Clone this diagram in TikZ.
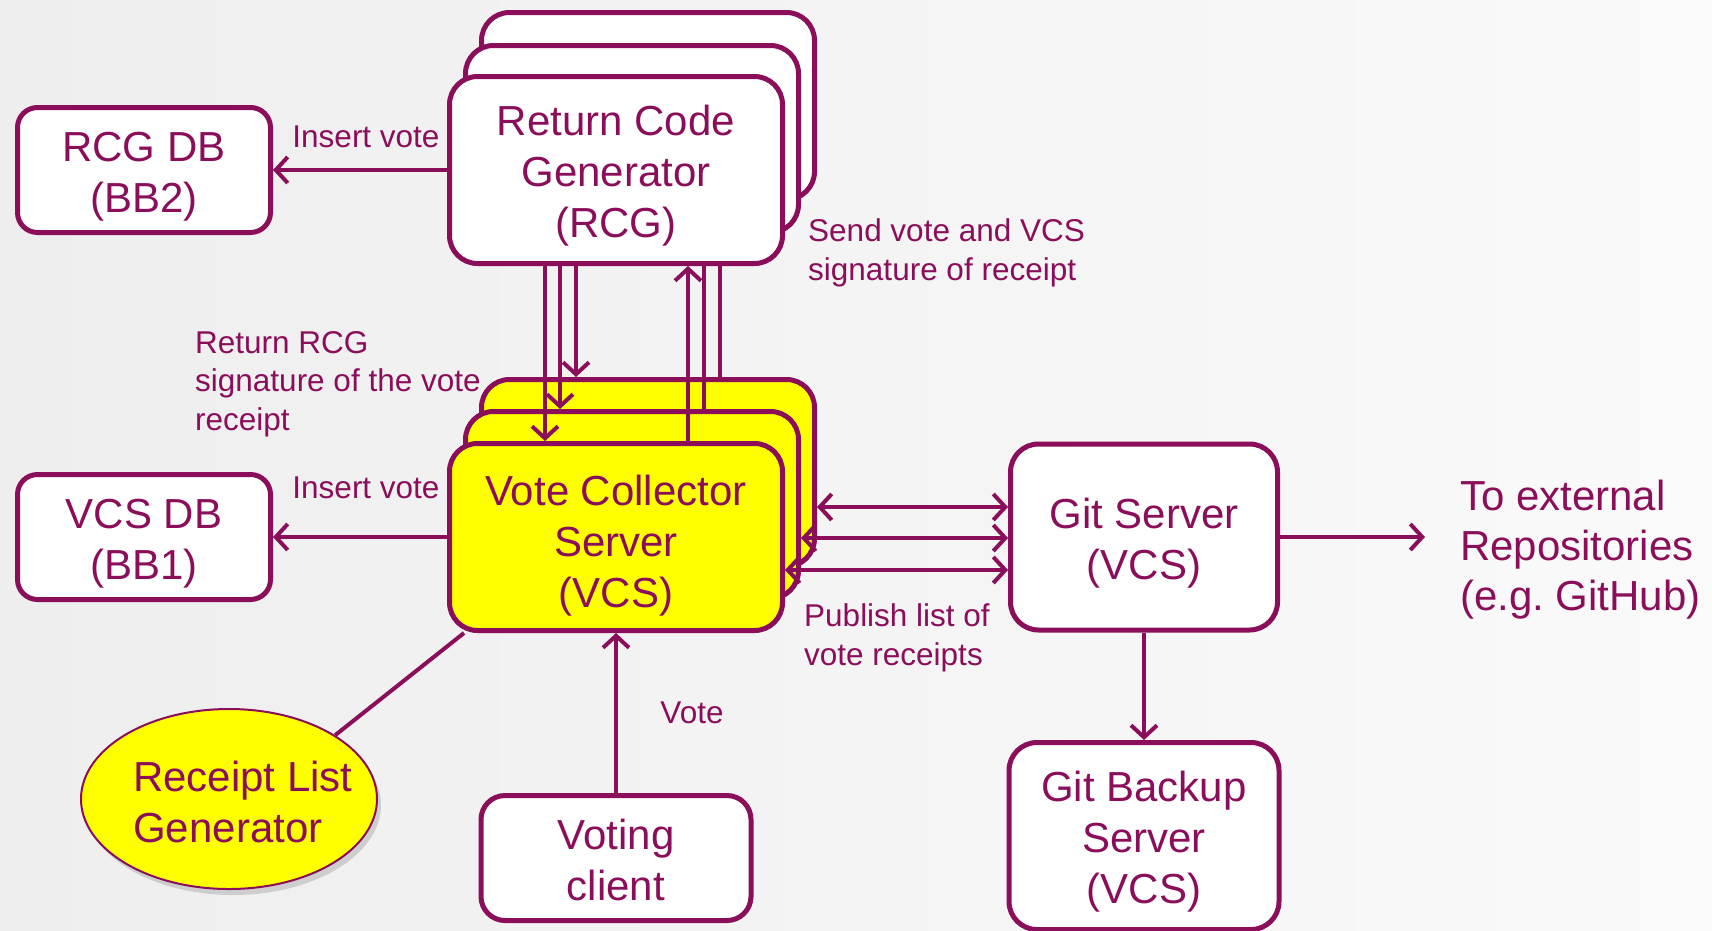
\documentclass[tikz,border=0pt]{standalone}
\usepackage{fontspec}
\setmainfont{Liberation Sans}
\usetikzlibrary{arrows.meta,shapes.geometric,shadows,calc}
\definecolor{pur}{RGB}{139,14,90}
\definecolor{yel}{RGB}{255,255,0}
\definecolor{bgl}{RGB}{238,238,238}
\definecolor{bgr}{RGB}{250,250,250}
\newcommand{\tp}[1]{\rule{0pt}{#1pt}}
\begin{document}
\begin{tikzpicture}[x=1pt,y=-1pt,
  box/.style={draw=pur, line width=5pt, rounded corners=28pt, fill=white, text=pur, align=center, inner sep=0pt, font=\fontsize{42}{51}\selectfont},
  bigbox/.style={box, minimum width=333pt, minimum height=187pt},
  vbox/.style={bigbox, fill=yel},
  smallbox/.style={box, rounded corners=20pt, minimum width=253pt, minimum height=125pt},
  lbl/.style={text=pur, font=\fontsize{31.5}{38.5}\selectfont, inner sep=0pt, align=left},
  conn/.style={draw=pur, line width=4pt},
  arr/.style={conn, -{Straight Barb[length=12pt,width=26pt]}},
  darr/.style={conn, {Straight Barb[length=12pt,width=26pt]}-{Straight Barb[length=12pt,width=26pt]}},
]
\shade[left color=bgl, right color=bgr] (0,0) rectangle (1712,930);
\useasboundingbox (0,0) rectangle (1712,930);

% RCG stack
\node[bigbox] (rcg3) at (648,106) {};
\node[bigbox] (rcg2) at (632,139) {};
\node[bigbox] (rcg) at (616,170) {\tp{42}Return Code\\Generator\\(RCG)};

% VCS stack
\node[vbox] (vcs3) at (648,473) {};
\node[vbox] (vcs2) at (632,505) {};
\node[vbox] (vcs) at (616,537) {\tp{48}Vote Collector\\Server\\(VCS)};

% DBs
\node[smallbox] (rcgdb) at (144,170) {\tp{42}RCG DB\\(BB2)};
\node[smallbox] (vcsdb) at (144,537) {\tp{42}VCS DB\\(BB1)};

% Git
\node[box, minimum width=267pt, minimum height=186pt] (git) at (1144,537) {\tp{43}Git Server\\(VCS)};
\node[box, minimum width=270pt, minimum height=187pt] (backup) at (1144,836) {\tp{42}Git Backup\\Server\\(VCS)};

% Voting client
\node[box, rounded corners=24pt, minimum width=270pt, minimum height=125pt] (voting) at (616,858) {\tp{35}Voting\\client};

% Receipt list generator
\node[ellipse, draw=pur, line width=2pt, fill=yel, minimum width=296pt, minimum height=180pt,
      drop shadow={shadow xshift=4pt, shadow yshift=-6pt, opacity=0.3}] (rlg) at (229,799) {};
\node[text=pur, font=\fontsize{42}{51}\selectfont, align=left, inner sep=0pt] (rlgt) at (243,802) {Receipt List\\Generator};

% connectors
\draw[conn] (rlg.31) -- ($(vcs.south west)+(17,0)$);

\draw[arr] (rcg.west) -- (rcgdb.east);
\draw[arr] (vcs.west) -- (vcsdb.east);

\coordinate (c1) at (545,0);
\coordinate (c2) at (560,0);
\coordinate (c3) at (576,0);
\coordinate (c4) at (688,0);
\coordinate (c5) at (704,0);
\coordinate (c6) at (720,0);
\draw[arr] (c1 |- rcg.south) -- (c1 |- vcs.north);
\draw[arr] (c2 |- rcg.south) -- (c2 |- vcs2.north);
\draw[arr] (c3 |- rcg.south) -- (c3 |- vcs3.north);
\draw[arr] (c4 |- vcs.north) -- (c4 |- rcg.south);
\draw[conn] (c5 |- vcs2.north) -- (c5 |- rcg.south);
\draw[conn] (c6 |- vcs3.north) -- (c6 |- rcg.south);

\coordinate (h1) at (0,507);
\coordinate (h2) at (0,538);
\coordinate (h3) at (0,570);
\draw[darr] (h1 -| vcs3.east) -- (h1 -| git.west);
\draw[darr] (h2 -| vcs2.east) -- (h2 -| git.west);
\draw[darr] (h3 -| vcs.east) -- (h3 -| git.west);

\draw[arr] (git.south) -- (backup.north);
\coordinate (ext) at (1425,537);
\draw[arr] (git.east) -- (ext);
\draw[arr] (voting.north) -- (vcs.south);

% labels
\node[lbl, anchor=center] (l1) at (366,137) {Insert vote};
\node[lbl, anchor=center] (l2) at (366,488) {Insert vote};
\node[lbl, anchor=west] (l3) at (808,253) {Send vote and VCS\\signature of receipt};
\node[lbl, anchor=west] (l4) at (195,384) {Return RCG\\signature of the vote\\receipt};
\node[lbl, anchor=west] (l5) at (804,638) {Publish list of\\vote receipts};
\node[lbl, anchor=center] (l6) at (692,713) {Vote};
\node[text=pur, font=\fontsize{42}{50}\selectfont, align=left, inner sep=0pt, anchor=west] (l7) at (1460,550) {To external\\Repositories\\(e.g.\ GitHub)};
\end{tikzpicture}
\end{document}
